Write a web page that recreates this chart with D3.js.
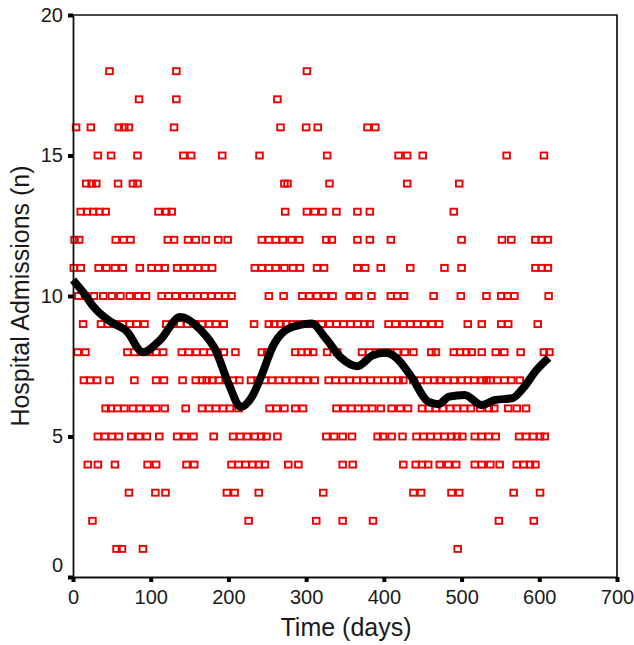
<!DOCTYPE html>
<meta charset="utf-8">
<script src="https://d3js.org/d3.v7.min.js"></script>
<style>
  body { margin: 0; background: #fff; }
  text { font-family: "Liberation Sans", Arial, sans-serif; fill: #1a1a1a; }
</style>
<body>
  <div id="container"></div>
</body>
<script>
    // daily hospital admissions, grouped by the count (n) -> list of days
    var n18 = [47, 133, 301];
    var n17 = [85, 133, 263];
    var n16 = [4, 23, 59, 66, 72, 130, 267, 300, 315, 379, 389];
    var n15 = [32, 49, 83, 142, 152, 192, 240, 327, 419, 430, 450, 558, 606];
    var n14 = [17, 24, 30, 58, 77, 83, 272, 276, 330, 430, 497];
    var n13 = [10, 18, 26, 34, 42, 110, 120, 127, 273, 301, 311, 321, 339, 366, 382, 490];
    var n12 = [2, 8, 55, 65, 74, 122, 130, 148, 158, 171, 187, 199, 243, 252, 261, 270, 281, 291,
               326, 333, 366, 382, 409, 500, 552, 564, 595, 603, 611];
    var n11 = [1, 10, 33, 43, 54, 64, 86, 101, 110, 118, 134, 143, 152, 161, 170, 179, 234, 243,
               252, 261, 272, 283, 292, 314, 323, 366, 376, 396, 434, 478, 500, 595, 603, 611];
    var n10 = [7, 16, 27, 39, 50, 61, 73, 84, 94, 114, 123, 132, 142, 151, 160, 169, 178, 187, 196,
               204, 252, 271, 295, 304, 314, 324, 334, 356, 367, 384, 409, 417, 426, 464, 499, 532,
               551, 559, 568, 612];
    var n9 = [13, 36, 45, 54, 64, 73, 82, 92, 120, 129, 138, 147, 156, 166, 175, 184, 194, 233, 252,
              259, 267, 274, 283, 292, 302, 311, 320, 330, 339, 348, 357, 366, 375, 382, 406, 415,
              425, 434, 443, 452, 462, 471, 508, 526, 551, 560, 598];
    var n8 = [6, 16, 70, 79, 88, 98, 107, 116, 140, 149, 159, 168, 177, 186, 194, 209, 243, 250, 286,
              294, 302, 309, 327, 340, 372, 381, 390, 399, 408, 417, 427, 438, 461, 467, 490, 498,
              506, 513, 526, 544, 555, 576, 606, 613];
    var n7 = [14, 22, 31, 47, 79, 107, 117, 141, 158, 166, 172, 179, 188, 197, 206, 214, 229, 238,
              247, 256, 265, 274, 283, 292, 301, 311, 329, 338, 347, 356, 365, 374, 383, 392, 401,
              410, 419, 425, 438, 447, 456, 465, 472, 482, 490, 500, 508, 516, 526, 532, 537, 546,
              555, 564, 575];
    var n6 = [42, 49, 57, 66, 77, 86, 96, 107, 118, 145, 166, 175, 184, 193, 202, 213, 253, 262, 272,
              286, 296, 339, 349, 358, 367, 376, 385, 396, 410, 421, 431, 449, 458, 467, 476, 485,
              494, 503, 512, 524, 535, 542, 560, 571, 583];
    var n5 = [32, 41, 50, 59, 75, 85, 95, 111, 134, 144, 155, 181, 206, 215, 224, 234, 242, 249, 263,
              326, 336, 347, 359, 392, 399, 410, 424, 442, 451, 460, 469, 478, 487, 494, 501, 517,
              526, 535, 544, 574, 583, 592, 601, 607];
    var n4 = [19, 32, 54, 96, 107, 146, 156, 204, 213, 222, 231, 239, 247, 277, 290, 347, 360, 425,
              441, 449, 457, 472, 483, 493, 517, 526, 537, 549, 571, 580, 588, 595];
    var n3 = [72, 106, 119, 198, 208, 239, 322, 438, 448, 487, 497, 567, 601];
    var n2 = [25, 226, 313, 347, 386, 548, 593];
    var n1 = [56, 63, 90, 495];

    // smoothed trend
    var trendDay = [0, 14, 27, 48, 69, 90, 112, 138, 164, 183, 200, 216, 230, 243, 257, 272, 292,
                    307, 325, 345, 366, 385, 402, 416, 436, 457, 470, 484, 504, 526, 543, 565, 580,
                    596, 612];
    var trendVal = [10.57, 10.1, 9.6, 9.09, 8.75, 8.0, 8.43, 9.25, 8.8, 8.1, 6.9, 6.05, 6.4, 7.2,
                    8.2, 8.75, 8.97, 9.02, 8.5, 7.8, 7.5, 7.88, 7.98, 7.8, 7.1, 6.24, 6.15, 6.42,
                    6.48, 6.12, 6.3, 6.36, 6.75, 7.35, 7.8];

    var xTicks = [0, 100, 200, 300, 400, 500, 600, 700];
    var yTicks = [0, 5, 10, 15, 20];

    var byCount = [n1, n2, n3, n4, n5, n6, n7, n8, n9, n10, n11, n12, n13, n14, n15, n16, n17, n18];
    var points = [];
    byCount.forEach(function(days, i) {
      days.forEach(function(d) { points.push({day: d, n: i + 1}); });
    });
    var trend = trendDay.map(function(d, i) { return {day: d, n: trendVal[i]}; });

    var W = 634, H = 645;
    var svg = d3.select("#container")
      .append("svg")
      .attr("width", W)
      .attr("height", H);

    var x = d3.scaleLinear().domain([0, 700]).range([73, 617]);
    var y = d3.scaleLinear().domain([0, 20]).range([577, 15]);

    // frame (top + right)
    svg.append("path")
      .attr("d", "M" + x(0) + "," + y(20) + "H" + x(700) + "V" + y(0))
      .attr("fill", "none")
      .attr("stroke", "#111")
      .attr("stroke-width", 1.7);

    // red squares
    var sw = 6.6, sh = 6.0;
    svg.append("g")
      .selectAll("rect")
      .data(points)
      .enter()
      .append("rect")
        .attr("x", function(d) { return x(d.day) - sw / 2; })
        .attr("y", function(d) { return y(d.n) - sh / 2; })
        .attr("width", sw)
        .attr("height", sh)
        .attr("fill", "none")
        .attr("stroke", "#f00000")
        .attr("stroke-width", 1.9);

    // trend line
    var line = d3.line()
      .x(function(d) { return x(d.day); })
      .y(function(d) { return y(d.n); })
      .curve(d3.curveMonotoneX);
    svg.append("path")
      .datum(trend)
      .attr("d", line)
      .attr("fill", "none")
      .attr("stroke", "#000")
      .attr("stroke-width", 8)
      .attr("stroke-linejoin", "round");

    // axes
    var xAxis = svg.append("g")
      .attr("transform", "translate(0," + y(0) + ")")
      .call(d3.axisBottom(x).tickValues(xTicks).tickSize(5).tickSizeOuter(0).tickPadding(8));
    var yAxis = svg.append("g")
      .attr("transform", "translate(" + x(0) + ",0)")
      .call(d3.axisLeft(y).tickValues(yTicks).tickSize(5).tickSizeOuter(0).tickPadding(5));

    [xAxis, yAxis].forEach(function(g) {
      g.select(".domain").attr("stroke", "#111").attr("stroke-width", 1.8);
      g.selectAll(".tick line").attr("stroke", "#000").attr("stroke-width", 4);
      g.selectAll(".tick text")
        .attr("font-size", 20)
        .attr("font-family", "Liberation Sans, Arial, sans-serif")
        .attr("fill", "#1a1a1a");
    });
    // the y "0" label sits a bit above its tick
    yAxis.selectAll(".tick text").filter(function(d) { return d === 0; }).attr("dy", "-0.28em");

    // axis titles
    svg.append("text")
      .attr("text-anchor", "middle")
      .attr("x", 346)
      .attr("y", 636)
      .attr("font-size", 25)
      .text("Time (days)");
    svg.append("text")
      .attr("text-anchor", "middle")
      .attr("transform", "translate(29,296) rotate(-90)")
      .attr("font-size", 25)
      .text("Hospital Admissions (n)");
</script>
